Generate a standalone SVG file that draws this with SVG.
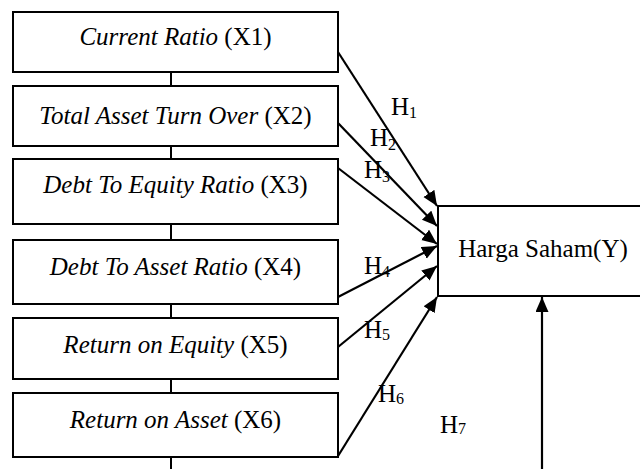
<svg xmlns="http://www.w3.org/2000/svg" width="640" height="469" viewBox="0 0 640 469">
<style>
.box{fill:#fff;stroke:#000;stroke-width:2}
.t{font-family:"Liberation Serif","Times New Roman",serif;font-size:25px;fill:#000}
.c{text-anchor:middle}
.i{font-style:italic}
.ln{stroke:#000;stroke-width:2;fill:none}
.ar{stroke:#000;stroke-width:2.2;fill:none;marker-end:url(#ah)}
.sub{font-size:16px}
</style>
<defs>
<marker id="ah" markerUnits="userSpaceOnUse" markerWidth="16" markerHeight="14" refX="15" refY="6.5" orient="auto">
<path d="M0,0 L15,6.5 L0,13 z" fill="#000"/>
</marker>
</defs>
<rect width="640" height="469" fill="#fff"/>
<g id="connectors">
<line class="ln" x1="171" y1="72" x2="171" y2="86"/>
<line class="ln" x1="171" y1="146" x2="171" y2="159"/>
<line class="ln" x1="171" y1="224" x2="171" y2="240"/>
<line class="ln" x1="171" y1="304" x2="171" y2="318"/>
<line class="ln" x1="171" y1="379" x2="171" y2="393"/>
<line class="ln" x1="171" y1="457" x2="171" y2="469"/>
<line class="ar" x1="338" y1="52" x2="437" y2="206"/>
<line class="ar" x1="338" y1="123" x2="437" y2="226"/>
<line class="ar" x1="338" y1="168" x2="437" y2="244"/>
<line class="ar" x1="338" y1="297" x2="437" y2="246"/>
<line class="ar" x1="338" y1="347" x2="437" y2="266"/>
<line class="ar" x1="338" y1="456" x2="437" y2="297"/>
<line class="ar" x1="542" y1="469" x2="542" y2="297"/>
</g>
<g id="x1"><rect class="box" x="13" y="12" width="325" height="60"/><text class="t c" x="175.5" y="45"><tspan class="i">Current Ratio</tspan> (X1)</text></g>
<g id="x2"><rect class="box" x="13" y="86" width="325" height="60"/><text class="t c" x="175.5" y="124"><tspan class="i">Total Asset Turn Over</tspan> (X2)</text></g>
<g id="x3"><rect class="box" x="13" y="159" width="325" height="65"/><text class="t c" x="175.5" y="193"><tspan class="i">Debt To Equity Ratio</tspan> (X3)</text></g>
<g id="x4"><rect class="box" x="13" y="240" width="325" height="64"/><text class="t c" x="175.5" y="275"><tspan class="i">Debt To Asset Ratio</tspan> (X4)</text></g>
<g id="x5"><rect class="box" x="13" y="318" width="325" height="61"/><text class="t c" x="175.5" y="353"><tspan class="i">Return on Equity</tspan> (X5)</text></g>
<g id="x6"><rect class="box" x="13" y="393" width="325" height="64"/><text class="t c" x="175.5" y="428"><tspan class="i">Return on Asset</tspan> (X6)</text></g>
<g id="y"><rect class="box" x="438" y="206" width="220" height="90"/><text class="t c" x="543" y="257">Harga Saham(Y)</text></g>
<g id="labels">
<text class="t" x="391" y="115">H<tspan class="sub" dy="3">1</tspan></text>
<text class="t" x="370" y="146">H<tspan class="sub" dy="4">2</tspan></text>
<text class="t" x="364" y="178">H<tspan class="sub" dy="4">3</tspan></text>
<text class="t" x="364" y="274">H<tspan class="sub" dy="3">4</tspan></text>
<text class="t" x="364" y="338">H<tspan class="sub" dy="2">5</tspan></text>
<text class="t" x="378" y="402">H<tspan class="sub" dy="2">6</tspan></text>
<text class="t" x="440" y="433">H<tspan class="sub" dy="1">7</tspan></text>
</g>
</svg>
